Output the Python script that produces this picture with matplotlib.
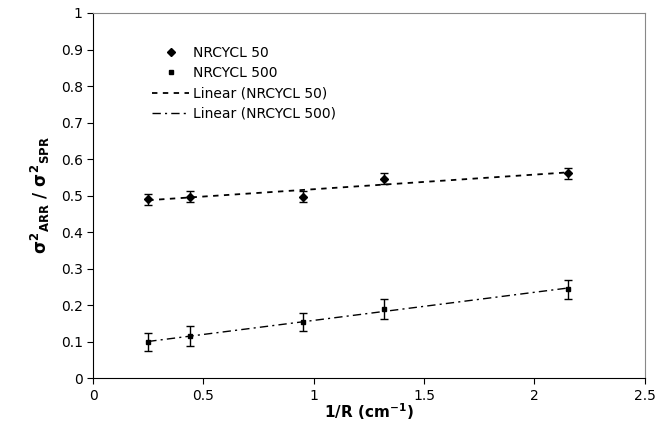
import numpy as np
import matplotlib
matplotlib.use('Agg')
from matplotlib import pyplot as plt
from matplotlib.lines import Line2D

# inverse radius (1/cm)
inv_r = [0.25, 0.44, 0.95, 1.32, 2.15]

# variance ratio for 50 and 500 cycles, with error bars
ratio_50 = [0.490, 0.497, 0.497, 0.546, 0.561]
err_50 = [0.015, 0.015, 0.015, 0.015, 0.015]
ratio_500 = [0.098, 0.115, 0.153, 0.190, 0.243]
err_500 = [0.025, 0.027, 0.025, 0.027, 0.027]

plt.rcParams['font.family'] = 'DejaVu Sans'
plt.rcParams['mathtext.fontset'] = 'custom'
plt.rcParams['mathtext.rm'] = 'DejaVu Sans:bold'
plt.rcParams['mathtext.it'] = 'DejaVu Sans:bold'
plt.rcParams['mathtext.bf'] = 'DejaVu Sans:bold'

fig = plt.figure(figsize=(6.6, 4.48), dpi=100)
ax = fig.add_axes([0.141, 0.156, 0.836, 0.815])

ax.errorbar(inv_r, ratio_50, yerr=err_50, fmt='D', color='black', ms=4.5,
            ecolor='black', elinewidth=1, capsize=3, capthick=1)
ax.errorbar(inv_r, ratio_500, yerr=err_500, fmt='s', color='black', ms=3,
            ecolor='black', elinewidth=1, capsize=3, capthick=1)

# linear trendlines
x = np.array(inv_r)
xs = np.array([x.min(), x.max()])
k1, b1 = np.polyfit(x, ratio_50, 1)
k2, b2 = np.polyfit(x, ratio_500, 1)
dash50 = (0, (3, 3))
dash500 = (0, (6, 3, 1.5, 3))
ax.plot(xs, k1 * xs + b1, color='black', lw=1.3, ls=dash50)
ax.plot(xs, k2 * xs + b2, color='black', lw=1, ls=dash500)

ax.set_xlim(0, 2.5)
ax.set_ylim(0, 1)
ax.set_xticks([0, 0.5, 1, 1.5, 2, 2.5])
ax.set_xticklabels(['0', '0.5', '1', '1.5', '2', '2.5'])
ax.set_yticks(np.arange(0, 1.01, 0.1))
ax.set_yticklabels(['0'] + ['%.1f' % v for v in np.arange(0.1, 0.95, 0.1)] + ['1'])
ax.tick_params(direction='out', length=4, labelsize=10, color='black')
for s in ax.spines.values():
    s.set_color('#888888')
ax.spines['left'].set_color('black')
ax.spines['bottom'].set_color('black')

ax.set_xlabel(r'$1/R\ (cm^{-1})$', fontsize=11, labelpad=-1)
ax.set_ylabel(r'$\sigma^{2}{}_{ARR}\ /\ \sigma^{2}{}_{SPR}$', fontsize=12, labelpad=6)

handles = [
    Line2D([], [], ls='none', marker='D', ms=4.5, color='black'),
    Line2D([], [], ls='none', marker='s', ms=3, color='black'),
    Line2D([], [], lw=1.3, ls=dash50, color='black'),
    Line2D([], [], lw=1, ls=dash500, color='black'),
]
labels = ['NRCYCL 50', 'NRCYCL 500', 'Linear (NRCYCL 50)', 'Linear (NRCYCL 500)']
ax.legend(handles, labels, loc='upper left', bbox_to_anchor=(0.085, 0.944), frameon=False,
          fontsize=10, handlelength=2.6, labelspacing=0.45, handletextpad=0.35)

fig.savefig('out.png', dpi=100)
